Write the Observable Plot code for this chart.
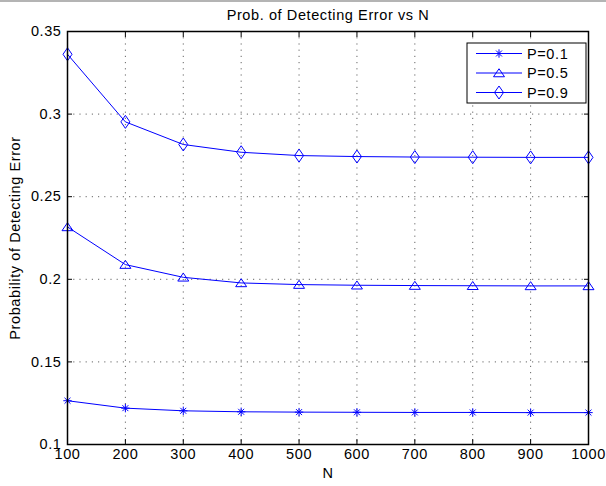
<!DOCTYPE html>
<html>
<head>
<meta charset="utf-8">
<script src="https://cdn.jsdelivr.net/npm/d3@7"></script>
<script src="https://cdn.jsdelivr.net/npm/@observablehq/plot@0.6"></script>
<style>
  html, body { margin: 0; padding: 0; background: #fff; }
  #chart { width: 606px; height: 486px; box-sizing: border-box; border-top: 2px solid #b4b4b4; overflow: hidden; }
  svg { display: block; }
  svg text { letter-spacing: 0.6px; }
</style>
</head>
<body>
<div id="chart"></div>
<script>
const N = [100, 200, 300, 400, 500, 600, 700, 800, 900, 1000];
const p01 = [0.1265, 0.1220, 0.1204, 0.1198, 0.1196, 0.1195, 0.1194, 0.1194, 0.1193, 0.1193];
const p05 = [0.2317, 0.2089, 0.2012, 0.1978, 0.1968, 0.1964, 0.1962, 0.1961, 0.1960, 0.1960];
const p09 = [0.3362, 0.2953, 0.2816, 0.2769, 0.2749, 0.2743, 0.2740, 0.2739, 0.2738, 0.2738];
const seriesNames = ["P=0.1", "P=0.5", "P=0.9"];
const xTicks = [100, 200, 300, 400, 500, 600, 700, 800, 900, 1000];
const xTickLabels = ["100", "200", "300", "400", "500", "600", "700", "800", "900", "1000"];
const yTicks = [0.1, 0.15, 0.2, 0.25, 0.3, 0.35];
const yTickLabels = ["0.1", "0.15", "0.2", "0.25", "0.3", "0.35"];
const titleText = "Prob. of Detecting Error vs N";
const xLabel = "N";
const yLabel = "Probability of Detecting Error";

const BLUE = "#0000ff";
const FONT = "'Liberation Sans', Arial, Helvetica, sans-serif";
const FS = 14.5;

// MATLAB-like marker shapes
const starSym = { draw(ctx, size) { const r = Math.sqrt(size / Math.PI); const d = r * 0.7071;
  ctx.moveTo(-r, 0); ctx.lineTo(r, 0); ctx.moveTo(0, -r); ctx.lineTo(0, r);
  ctx.moveTo(-d, -d); ctx.lineTo(d, d); ctx.moveTo(-d, d); ctx.lineTo(d, -d); } };
const triSym = { draw(ctx, size) { const r = Math.sqrt(size / Math.PI);
  ctx.moveTo(0, -r * 0.85); ctx.lineTo(r * 1.1, r * 0.75); ctx.lineTo(-r * 1.1, r * 0.75); ctx.closePath(); } };
const diaSym = { draw(ctx, size) { const r = Math.sqrt(size / Math.PI);
  ctx.moveTo(0, -r * 1.3); ctx.lineTo(r * 0.9, 0); ctx.lineTo(0, r * 1.3); ctx.lineTo(-r * 0.9, 0); ctx.closePath(); } };
const symbols = [starSym, triSym, diaSym];
const radii = [4.2, 5, 5];

const rows = [];
[p01, p05, p09].forEach((vals, si) => vals.forEach((v, i) => rows.push({ N: N[i], v, s: seriesNames[si] })));

const grid = { stroke: "#666", strokeOpacity: 1, strokeWidth: 1, strokeDasharray: "1.2,5" };
const blank = () => "";

const marks = [
  Plot.gridX(xTicks, grid),
  Plot.gridY(yTicks, grid),
  Plot.axisX(xTicks, { anchor: "bottom", tickSize: 0, tickPadding: 4, tickFormat: (d, i) => xTickLabels[i], fontSize: FS, label: null }),
  Plot.axisY(yTicks, { anchor: "left", tickSize: 0, tickPadding: 6, tickFormat: (d, i) => yTickLabels[i], fontSize: FS, label: null }),
  Plot.axisX(xTicks, { anchor: "bottom", tickSize: -5, tickFormat: blank, label: null, stroke: "#000" }),
  Plot.axisX(xTicks, { anchor: "top", tickSize: -5, tickFormat: blank, label: null, stroke: "#000" }),
  Plot.axisY(yTicks, { anchor: "left", tickSize: -5, tickFormat: blank, label: null, stroke: "#000" }),
  Plot.axisY(yTicks, { anchor: "right", tickSize: -5, tickFormat: blank, label: null, stroke: "#000" }),
];
seriesNames.forEach((name, si) => {
  const d = rows.filter(r => r.s === name);
  marks.push(Plot.line(d, { x: "N", y: "v", stroke: BLUE, strokeWidth: 1 }));
  marks.push(Plot.dot(d, { x: "N", y: "v", stroke: BLUE, strokeWidth: 1, fill: "none", r: radii[si], symbol: () => symbols[si] }));
});
marks.push(Plot.frame({ stroke: "#000", strokeWidth: 1.5 }));
marks.push(Plot.text([titleText], { frameAnchor: "top", dy: -12, fontSize: FS, fill: "#000", lineAnchor: "bottom", textAnchor: "middle" }));
marks.push(Plot.text([xLabel], { frameAnchor: "bottom", dy: 23, fontSize: FS, fill: "#000", lineAnchor: "top", textAnchor: "middle" }));
marks.push(Plot.text([yLabel], { frameAnchor: "left", dx: -52, rotate: -90, fontSize: FS, fill: "#000", textAnchor: "middle" }));

const chart = Plot.plot({
  width: 606,
  height: 484,
  marginLeft: 67,
  marginRight: 18,
  marginTop: 29,
  marginBottom: 42,
  style: { fontFamily: FONT, fontSize: FS + "px", color: "#000", background: "#fff", overflow: "visible" },
  x: { domain: [100, 1000] },
  y: { domain: [0.1, 0.35] },
  symbol: { type: "identity" },
  marks
});

document.getElementById("chart").appendChild(chart);

// Legend box (inside the axes, top-right), MATLAB style
const svg = d3.select(chart);
const xr = [67, 606 - 18];
const yr = [29, 484 - 42];
const lw = 119, lh = 60;
const lx = xr[1] - 2 - lw, ly = yr[0] + 12;
const g = svg.append("g").attr("font-family", FONT).attr("font-size", FS).attr("text-anchor", "start");
g.append("rect").attr("x", lx).attr("y", ly).attr("width", lw).attr("height", lh)
  .attr("fill", "#fff").attr("stroke", "#000").attr("stroke-width", 1);
seriesNames.forEach((name, si) => {
  const cy = ly + 10.5 + si * 19.5;
  g.append("line").attr("x1", lx + 9).attr("x2", lx + 55).attr("y1", cy).attr("y2", cy)
    .attr("stroke", BLUE).attr("stroke-width", 1);
  const r = radii[si];
  const path = d3.symbol().type(symbols[si]).size(Math.PI * r * r)();
  g.append("path").attr("d", path).attr("transform", `translate(${lx + 32},${cy})`)
    .attr("fill", "none").attr("stroke", BLUE).attr("stroke-width", 1);
  g.append("text").attr("x", lx + 60).attr("y", cy).attr("dy", "0.35em").attr("fill", "#000")
    .attr("text-anchor", "start").text(name);
});
</script>
</body>
</html>
